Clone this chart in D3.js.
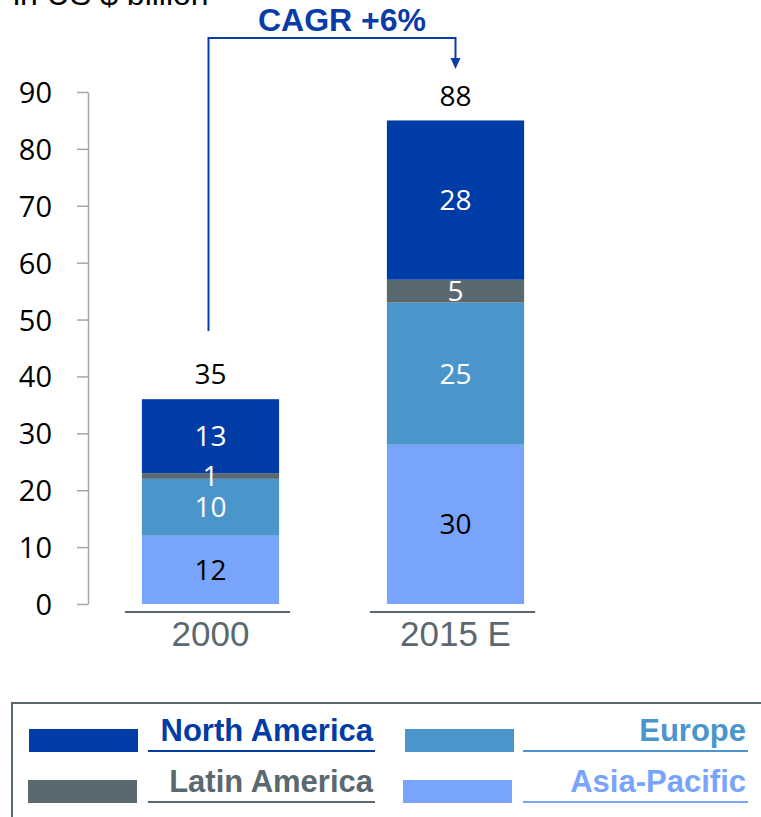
<!DOCTYPE html>
<html>
<head>
<meta charset="utf-8">
<script src="https://cdn.jsdelivr.net/npm/d3@7"></script>
<style>
  body { margin: 0; background: #fff; }
  svg { display: block; }
</style>
</head>
<body>
<div class="canvas"></div>
<script>
// data
const years = ['2000', '2015 E'];
const regions = ['Asia-Pacific', 'Europe', 'Latin America', 'North America'];
// segment heights as drawn
const asiaPacific = [12, 28];
const europe = [10, 25];
const latinAmerica = [1, 4];
const northAmerica = [13, 28];
// printed labels
const asiaPacificLabels = ['12', '30'];
const europeLabels = ['10', '25'];
const latinAmericaLabels = ['1', '5'];
const northAmericaLabels = ['13', '28'];
const totalLabels = ['35', '88'];
const yTicks = [0, 10, 20, 30, 40, 50, 60, 70, 80, 90];
const cagrLabel = 'CAGR +6%';
const cagrStart = 48;

const colors = {
  'North America': '#003ca6',
  'Latin America': '#5a6870',
  'Europe': '#4a96cc',
  'Asia-Pacific': '#78a4fc'
};
const labelColors = {
  'North America': '#fff',
  'Latin America': '#fff',
  'Europe': '#fff',
  'Asia-Pacific': '#000'
};

// table for stacking
const table = years.map((year, i) => ({
  year,
  'Asia-Pacific': asiaPacific[i],
  'Europe': europe[i],
  'Latin America': latinAmerica[i],
  'North America': northAmerica[i]
}));
const labels = {
  'Asia-Pacific': asiaPacificLabels,
  'Europe': europeLabels,
  'Latin America': latinAmericaLabels,
  'North America': northAmericaLabels
};

const width = 761;
const height = 817;
const numFont = 'Open Sans, Noto Sans, sans-serif';
const textFont = 'Liberation Sans, Arial, sans-serif';

const svg = d3.select('.canvas')
  .append('svg')
  .attr('width', width)
  .attr('height', height);

// scales
const y = d3.scaleLinear().domain([0, 90]).range([604, 92]);
const x = d3.scaleBand().domain(years).range([88, 578])
  .paddingInner(0.44).paddingOuter(0.22);

// unit title (cut off at top)
svg.append('text')
  .attr('x', 13)
  .attr('y', 5)
  .attr('font-family', textFont)
  .attr('font-size', 32)
  .attr('fill', '#000')
  .text('in US $ billion');

// y axis
const yAxis = d3.axisLeft(y)
  .tickValues(yTicks)
  .tickSize(11)
  .tickSizeOuter(0)
  .tickPadding(25);
const yAxisGroup = svg.append('g')
  .attr('transform', 'translate(88, 0)')
  .call(yAxis);
yAxisGroup.select('.domain').attr('stroke', '#a6a6a6').attr('stroke-width', 1.5);
yAxisGroup.selectAll('.tick line').attr('stroke', '#a6a6a6').attr('stroke-width', 1.5);
yAxisGroup.selectAll('.tick text')
  .attr('font-family', numFont)
  .attr('font-size', 29)
  .attr('dy', '0.36em')
  .attr('fill', '#000');

// stacked bars
const stack = d3.stack().keys(regions);
const series = stack(table);

const layers = svg.append('g')
  .selectAll('g')
  .data(series)
  .join('g')
  .attr('fill', d => colors[d.key]);

layers.selectAll('rect')
  .data(d => d.map(v => ({ key: d.key, v })))
  .join('rect')
  .attr('x', d => x(d.v.data.year))
  .attr('y', d => y(d.v[1]))
  .attr('width', x.bandwidth())
  .attr('height', d => y(d.v[0]) - y(d.v[1]));

// segment labels
series.forEach(s => {
  s.forEach((v, i) => {
    svg.append('text')
      .attr('x', x(v.data.year) + x.bandwidth() / 2)
      .attr('y', y((v[0] + v[1]) / 2))
      .attr('dy', '0.36em')
      .attr('text-anchor', 'middle')
      .attr('font-family', numFont)
      .attr('font-size', 28)
      .attr('fill', labelColors[s.key])
      .text(labels[s.key][i]);
  });
});

// totals
const tops = series[series.length - 1];
svg.selectAll('.total')
  .data(tops)
  .join('text')
  .attr('class', 'total')
  .attr('x', d => x(d.data.year) + x.bandwidth() / 2)
  .attr('y', d => y(d[1]) - 25)
  .attr('dy', '0.36em')
  .attr('text-anchor', 'middle')
  .attr('font-family', numFont)
  .attr('font-size', 28)
  .attr('fill', '#000')
  .text((d, i) => totalLabels[i]);

// category baselines and labels
years.forEach(year => {
  svg.append('line')
    .attr('x1', x(year) - 17)
    .attr('x2', x(year) + x.bandwidth() + 11)
    .attr('y1', 612)
    .attr('y2', 612)
    .attr('stroke', '#5a6870')
    .attr('stroke-width', 2);
  svg.append('text')
    .attr('x', x(year) + x.bandwidth() / 2)
    .attr('y', 646)
    .attr('text-anchor', 'middle')
    .attr('font-family', textFont)
    .attr('font-size', 35)
    .attr('fill', '#5a6870')
    .text(year);
});

// CAGR bracket
const cagrColor = '#0a3ca8';
const xa = x(years[0]) + x.bandwidth() / 2 - 2;
const xb = x(years[1]) + x.bandwidth() / 2;
svg.append('path')
  .attr('d', `M${xa},${y(cagrStart)} V38 H${xb} V60`)
  .attr('fill', 'none')
  .attr('stroke', cagrColor)
  .attr('stroke-width', 2);
svg.append('path')
  .attr('d', `M${xb - 5},58 L${xb + 5},58 L${xb},69 Z`)
  .attr('fill', cagrColor);
svg.append('text')
  .attr('x', 342)
  .attr('y', 31)
  .attr('text-anchor', 'middle')
  .attr('font-family', textFont)
  .attr('font-weight', 'bold')
  .attr('font-size', 32)
  .attr('fill', cagrColor)
  .text(cagrLabel);

// legend
svg.append('rect')
  .attr('x', 12)
  .attr('y', 703)
  .attr('width', 780)
  .attr('height', 150)
  .attr('fill', 'none')
  .attr('stroke', '#5a6870')
  .attr('stroke-width', 2);

const legendItems = [
  { key: 'North America', sx: 29, lx1: 148, lx2: 375, row: 0 },
  { key: 'Europe', sx: 405, lx1: 523, lx2: 748, row: 0 },
  { key: 'Latin America', sx: 28, lx1: 148, lx2: 375, row: 1 },
  { key: 'Asia-Pacific', sx: 403, lx1: 523, lx2: 748, row: 1 }
];
const legend = svg.append('g')
  .selectAll('g')
  .data(legendItems)
  .join('g')
  .attr('transform', d => `translate(0, ${d.row * 51})`);
legend.append('rect')
  .attr('x', d => d.sx)
  .attr('y', 729)
  .attr('width', 109)
  .attr('height', 23)
  .attr('fill', d => colors[d.key]);
legend.append('line')
  .attr('x1', d => d.lx1)
  .attr('x2', d => d.lx2)
  .attr('y1', 751)
  .attr('y2', 751)
  .attr('stroke', d => colors[d.key])
  .attr('stroke-width', 2);
legend.append('text')
  .attr('x', d => d.lx2 - 2)
  .attr('y', 741)
  .attr('text-anchor', 'end')
  .attr('font-family', textFont)
  .attr('font-weight', 'bold')
  .attr('font-size', 31)
  .attr('fill', d => colors[d.key])
  .text(d => d.key);
</script>
</body>
</html>
